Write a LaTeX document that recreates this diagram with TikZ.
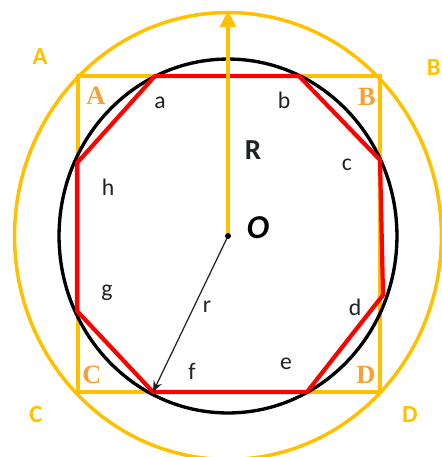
\documentclass[tikz,border=0pt]{standalone}
\usepackage{fontspec}
\setmainfont{Carlito}
\newfontfamily\serifbold{Liberation Serif}
\usetikzlibrary{arrows.meta,positioning,calc}
\definecolor{Gold}{HTML}{FFC000}
\definecolor{Amber}{HTML}{F7A035}
\definecolor{Ink}{HTML}{1E2228}
\definecolor{Red}{HTML}{FF0000}

\begin{document}
\begin{tikzpicture}[
  x=0.02cm,y=-0.02cm,
  outer/.style={text=Gold,font=\fontsize{14}{16}\selectfont\bfseries,inner sep=0pt},
  corner/.style={text=Amber,font=\fontsize{15}{17}\selectfont\serifbold\bfseries,inner sep=0pt},
  side/.style={text=Ink,font=\fontsize{13.5}{15}\selectfont,inner sep=0pt},
  goldline/.style={draw=Gold,line width=2pt},
  redline/.style={draw=Red,line width=2.4pt,line join=round},
  arrow/.style={-{Stealth[length=2.2mm,width=1.8mm]},draw=Ink,line width=0.7pt}
]
\useasboundingbox (0,0) rectangle (442,457);
\coordinate (O) at (228,236);
\coordinate (top) at (228,11);
% square
\coordinate (sqA) at (78,76);
\coordinate (sqB) at (380,76);
\coordinate (sqD) at (380,392);
\coordinate (sqC) at (78,392);
% octagon
\coordinate (v1) at (155,76);
\coordinate (v2) at (299,76);
\coordinate (v3) at (380,160);
\coordinate (v4) at (383,295);
\coordinate (v5) at (307,392);
\coordinate (v6) at (153,392);
\coordinate (v7) at (77,311);
\coordinate (v8) at (77,163);

\draw[goldline] (O) ellipse [x radius=4.27cm,y radius=4.47cm];
\draw[goldline] (sqA) -- (sqB) -- (sqD) -- (sqC) -- cycle;
\draw[black,line width=1.9pt] (O) ellipse [x radius=3.38cm,y radius=3.54cm];
\draw[redline] (v1) -- (v2) -- (v3) -- (v4) -- (v5) -- (v6) -- (v7) -- (v8) -- cycle;

\draw[goldline,line width=1.8pt,-{Triangle[length=3.2mm,width=3.2mm]}] (O) -- (top);
\draw[arrow] (O) -- (v6);
\fill[black] (O) circle [radius=1.7pt];

\node[outer] (oA) at (40,57) {A};
\node[outer,anchor=east] (oB) at (441,68) {B};
\node[outer] (oC) at (36,415) {C};
\node[outer] (oD) at (410,415) {D};

\node[corner] (cA) at (96,96) {A};
\node[corner] (cB) at (367,97) {B};
\node[corner] (cC) at (92,375) {C};
\node[corner] (cD) at (366,375) {D};

\node[side] (la) at (160,103) {a};
\node[side] (lb) at (284,100) {b};
\node[side] (lc) at (347,165) {c};
\node[side] (ld) at (355,307) {d};
\node[side] (le) at (286,364) {e};
\node[side] (lf) at (192,371) {f};
\node[side] (lg) at (107,293) {g};
\node[side] (lh) at (108,187) {h};
\node[side] (lr) at (207,307) {r};
\node[side,font=\fontsize{16.5}{18}\selectfont\bfseries] (lR) at (253,150) {R};
\node[side,text=black,font=\fontsize{19}{21}\selectfont\bfseries\itshape] (lO) at (258,228) {O};
\end{tikzpicture}
\end{document}
